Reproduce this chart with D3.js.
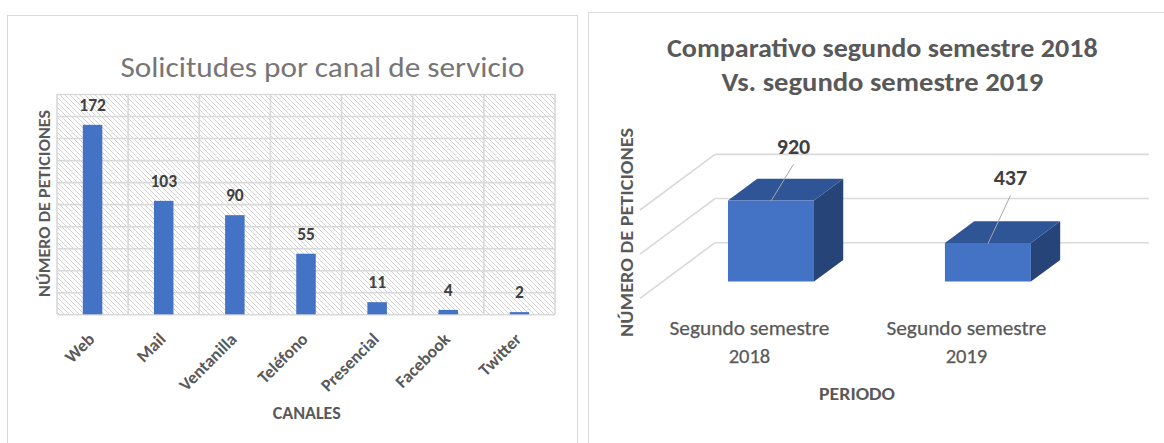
<!DOCTYPE html>
<html>
<head>
<meta charset="utf-8">
<script src="https://cdn.jsdelivr.net/npm/d3@7"></script>
<style>
html,body{margin:0;padding:0;background:#fff;}
svg{display:block;}
text{font-family:Carlito,Lato,"Open Sans",sans-serif;}
</style>
</head>
<body>
<svg id="chart" width="1164" height="443"></svg>
<script>
// ---------- data ----------
const categories = ["Web", "Mail", "Ventanilla", "Teléfono", "Presencial", "Facebook", "Twitter"];
const requests = [172, 103, 90, 55, 11, 4, 2];
const requestTicks = [0, 20, 40, 60, 80, 100, 120, 140, 160, 180, 200];

const periods = ["Segundo semestre 2018", "Segundo semestre 2019"];
const periodTotals = [920, 437];
const periodTicks = [0, 500, 1000];
const labelLift = [46.5, 58];   // layout of the moved data labels

const leftTitle = "Solicitudes por canal de servicio";
const rightTitle = ["Comparativo segundo semestre 2018", "Vs. segundo semestre 2019"];
const yTitle = "NÚMERO DE PETICIONES";
const leftXTitle = "CANALES";
const rightXTitle = "PERIODO";

// ---------- setup ----------
const svg = d3.select("#chart");
const BLUE = "#4472C4", TOP = "#2F5597", SIDE = "#264478";
const GRID = "#d9d9d9", TXT = "#595959", LBL = "#404040";

const defs = svg.append("defs");
const pat = defs.append("pattern").attr("id", "hatch")
  .attr("patternUnits", "userSpaceOnUse").attr("width", 5).attr("height", 5);
pat.append("rect").attr("width", 5).attr("height", 5).attr("fill", "#fff");
pat.append("path").attr("d", "M0,0L5,5M-1,4L1,6M4,-1L6,1")
  .attr("stroke", "#cfcfcf").attr("stroke-width", 0.9);

// panel borders
svg.append("rect").attr("x", 7.5).attr("y", 15.5).attr("width", 570).attr("height", 440)
  .attr("fill", "none").attr("stroke", GRID);
svg.append("rect").attr("x", 588.5).attr("y", 12.5).attr("width", 600).attr("height", 440)
  .attr("fill", "none").attr("stroke", GRID);

// ================= LEFT CHART =================
const L = {left: 57, right: 555, top: 94, bottom: 314.3};
const x = d3.scaleBand().domain(categories).range([L.left, L.right]);
const y = d3.scaleLinear().domain([0, 200]).range([L.bottom, L.top]);
const barW = 19.5;

const gL = svg.append("g");
gL.append("rect").attr("x", L.left).attr("y", L.top)
  .attr("width", L.right - L.left).attr("height", L.bottom - L.top).attr("fill", "url(#hatch)");

// horizontal gridlines via axis
const gridY = gL.append("g").attr("transform", `translate(${L.left},0)`)
  .call(d3.axisLeft(y).tickValues(requestTicks).tickSize(-(L.right - L.left)).tickFormat(""));
gridY.select(".domain").remove();
gridY.selectAll("line").attr("stroke", GRID).attr("stroke-width", 1.6);

// vertical gridlines at category boundaries
const bounds = categories.map(c => x(c)).concat([x.range()[1]]);
gL.selectAll(".vgrid").data(bounds).join("line")
  .attr("x1", d => d).attr("x2", d => d).attr("y1", L.top).attr("y2", L.bottom)
  .attr("stroke", GRID).attr("stroke-width", 1.6);

// bars
gL.selectAll(".bar").data(requests).join("rect")
  .attr("x", (d, i) => x(categories[i]) + x.bandwidth() / 2 - barW / 2)
  .attr("y", d => y(d))
  .attr("width", barW)
  .attr("height", d => y(0) - y(d))
  .attr("fill", BLUE);

// data labels
gL.selectAll(".dl").data(requests).join("text")
  .attr("x", (d, i) => x(categories[i]) + x.bandwidth() / 2)
  .attr("y", d => y(d) - 14)
  .attr("text-anchor", "middle")
  .attr("font-size", 17.5).attr("font-weight", "bold").attr("fill", LBL)
  .text(d => d);

// category labels
gL.selectAll(".xl").data(categories).join("text")
  .attr("transform", d => `translate(${x(d) + x.bandwidth() / 2 + 3},${L.bottom + 26}) rotate(-45)`)
  .attr("text-anchor", "end")
  .attr("font-size", 17.5).attr("font-weight", "bold").attr("fill", TXT)
  .text(d => d);

// titles
gL.append("text").attr("x", 322.4).attr("y", 77).attr("text-anchor", "middle")
  .attr("font-size", 28).attr("fill", "#767676")
  .attr("textLength", 404).attr("lengthAdjust", "spacingAndGlyphs").text(leftTitle);
gL.append("text").attr("transform", "translate(49.5,203.5) rotate(-90)")
  .attr("text-anchor", "middle").attr("font-size", 15.5).attr("font-weight", "bold").attr("fill", TXT)
  .attr("textLength", 187).attr("lengthAdjust", "spacingAndGlyphs").text(yTitle);
gL.append("text").attr("x", 306.7).attr("y", 419).attr("text-anchor", "middle")
  .attr("font-size", 17).attr("font-weight", "bold").attr("fill", TXT)
  .attr("textLength", 68).attr("lengthAdjust", "spacingAndGlyphs").text(leftXTitle);

// ================= RIGHT CHART (3D) =================
const W = {frontX: 640, floorY: 298.3, depthX: 75, depthY: 55.6, endX: 1073.9};
const xp = d3.scalePoint().domain(periods).range([W.frontX, W.endX]).padding(0.5);
const yv = d3.scaleLinear().domain([0, 1000]).range([0, 88.3]);
const project = (px, v, z) => [px + z * W.depthX, W.floorY - yv(v) - z * W.depthY];
const zFront = 0.3, zBack = 0.69, pBarW = 86;

const gR = svg.append("g");

// back wall gridlines
gR.selectAll(".bw").data(periodTicks).join("line")
  .attr("x1", d => project(W.frontX, d, 1)[0]).attr("y1", d => project(W.frontX, d, 1)[1])
  .attr("x2", d => project(W.endX, d, 1)[0]).attr("y2", d => project(W.endX, d, 1)[1])
  .attr("stroke", GRID).attr("stroke-width", 1.6);
// side wall gridlines
gR.selectAll(".sw").data(periodTicks).join("line")
  .attr("x1", d => project(W.frontX, d, 0)[0]).attr("y1", d => project(W.frontX, d, 0)[1])
  .attr("x2", d => project(W.frontX, d, 1)[0]).attr("y2", d => project(W.frontX, d, 1)[1])
  .attr("stroke", GRID).attr("stroke-width", 1.6);

const poly = pts => "M" + pts.map(p => p.join(",")).join("L") + "Z";
periods.forEach((p, i) => {
  const v = periodTotals[i];
  const x0 = xp(p) - pBarW / 2, x1 = xp(p) + pBarW / 2;
  const fBL = project(x0, 0, zFront), fBR = project(x1, 0, zFront);
  const fTL = project(x0, v, zFront), fTR = project(x1, v, zFront);
  const bTL = project(x0, v, zBack), bTR = project(x1, v, zBack), bBR = project(x1, 0, zBack);
  gR.append("path").attr("d", poly([fTR, bTR, bBR, fBR])).attr("fill", SIDE);
  gR.append("path").attr("d", poly([fTL, bTL, bTR, fTR])).attr("fill", TOP);
  gR.append("path").attr("d", poly([fBL, fTL, fTR, fBR])).attr("fill", BLUE);
  const cx = (fTL[0] + fTR[0]) / 2, top = fTL[1];
  const lx = cx + 22.5, ly = top - labelLift[i];
  gR.append("line").attr("x1", lx).attr("y1", ly + 10.5).attr("x2", cx).attr("y2", top + 0.7)
    .attr("stroke", "#a6a6a6").attr("stroke-width", 1);
  gR.append("text").attr("x", lx).attr("y", ly).attr("text-anchor", "middle")
    .attr("font-size", 22).attr("font-weight", "bold").attr("fill", LBL).text(v);
});

// category labels (two lines)
periods.forEach(p => {
  const parts = [p.slice(0, p.lastIndexOf(" ")), p.slice(p.lastIndexOf(" ") + 1)];
  const t = gR.append("text").attr("text-anchor", "middle").attr("font-size", 20.5)
    .attr("fill", TXT).attr("stroke", TXT).attr("stroke-width", 0.25);
  parts.forEach((s, k) => {
    const ts = t.append("tspan").attr("x", xp(p) + 1).attr("y", 335 + k * 27.5).text(s);
    if (k === 0) ts.attr("textLength", 160).attr("lengthAdjust", "spacingAndGlyphs");
  });
});

// titles
rightTitle.forEach((s, k) => {
  gR.append("text").attr("x", 882.3).attr("y", 56.7 + k * 34).attr("text-anchor", "middle")
    .attr("font-size", 25.5).attr("font-weight", "bold").attr("fill", TXT)
    .attr("textLength", k === 0 ? 430.7 : 321.7).attr("lengthAdjust", "spacingAndGlyphs").text(s);
});
gR.append("text").attr("transform", "translate(632.5,232.5) rotate(-90)")
  .attr("text-anchor", "middle").attr("font-size", 17).attr("font-weight", "bold").attr("fill", TXT)
  .attr("textLength", 209).attr("lengthAdjust", "spacingAndGlyphs").text(yTitle);
gR.append("text").attr("x", 857).attr("y", 400).attr("text-anchor", "middle")
  .attr("font-size", 17.5).attr("font-weight", "bold").attr("fill", TXT)
  .attr("textLength", 76).attr("lengthAdjust", "spacingAndGlyphs").text(rightXTitle);
</script>
</body>
</html>
